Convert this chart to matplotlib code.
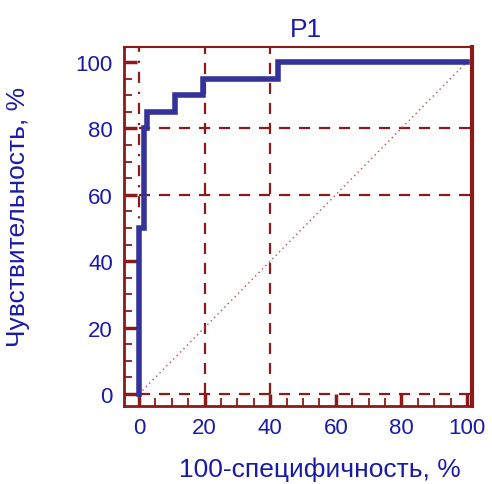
import numpy as np
import matplotlib.pyplot as plt

plt.rcParams['font.family'] = ['Liberation Sans', 'DejaVu Sans']

# ROC curve points (100-specificity, sensitivity), %
fpr = [0, 0, 1.5, 1.5, 2.5, 2.5, 11, 11, 19.5, 19.5, 42.5, 42.5, 100]
tpr = [0, 50, 50, 80, 80, 85, 85, 90, 90, 95, 95, 100, 100]
diag = [0, 100]
vlines_x = [0, 20, 40]
hlines_y = [0, 60, 80]
ticks = [0, 20, 40, 60, 80, 100]

red = '#8b1a1a'
blue = '#333399'
txt = '#1a1aa8'

fig = plt.figure(figsize=(4.92, 4.85), dpi=100)
ax = fig.add_axes([0.252, 0.161, 0.707, 0.740])

for x in vlines_x:
    ax.plot([x, x], [0, 104.5], color=red, lw=1.6, ls=(0, (5, 4, 1, 4)) if x == 0 else (0, (5, 4)), zorder=1)
for y in hlines_y:
    ax.plot([0, 101.5], [y, y], color=red, lw=1.6, ls=(0, (5, 4)), zorder=1)

ax.plot(diag, diag, color='#b05050', lw=1, ls=(0, (1, 2.5)), zorder=2)
ax.plot(fpr, tpr, color=blue, lw=4, solid_joinstyle='miter', zorder=3)

ax.set_xlim(-4.6, 101.5)
ax.set_ylim(-3.6, 104.5)
ax.set_xticks(ticks)
ax.set_yticks(ticks)
ax.set_xticks(np.arange(0, 101, 5), minor=True)
ax.set_yticks(np.arange(0, 101, 5), minor=True)
ax.tick_params(which='both', direction='in', color=red, labelcolor=txt, labelsize=16)
ax.tick_params(which='major', length=9, width=2.5, pad=8)
ax.tick_params(which='minor', length=6, width=1.3)
ax.tick_params(axis='y', right=False)
ax.tick_params(axis='x', top=False)

for side, w in [('left', 2), ('bottom', 2), ('top', 1.5), ('right', 3)]:
    ax.spines[side].set_color(red)
    ax.spines[side].set_linewidth(w)

ax.set_title('P1', color=txt, fontsize=19, pad=8, x=0.523)
ax.set_xlabel('100-специфичность, %', color=txt, fontsize=19)
ax.set_ylabel('Чувствительность, %', color=txt, fontsize=19)
ax.xaxis.set_label_coords(0.563, -0.142)
ax.yaxis.set_label_coords(-0.27, 0.529)

fig.savefig('out.png', dpi=100)
